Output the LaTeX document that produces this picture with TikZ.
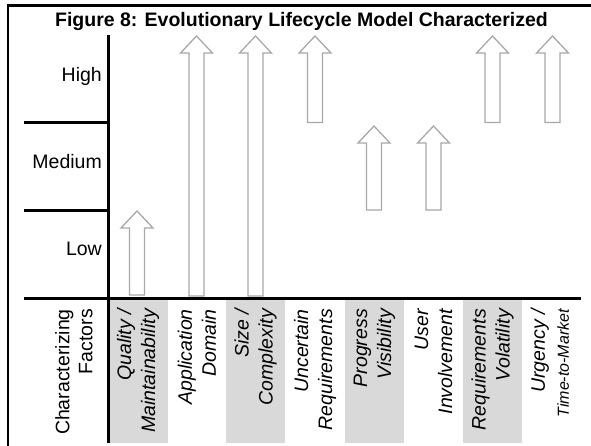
\documentclass[tikz,border=0pt]{standalone}
\usepackage{fontspec}
\setmainfont{Liberation Sans}
\definecolor{shadegray}{RGB}{217,217,217}
\definecolor{arrowgray}{RGB}{168,168,168}
% hollow upward block arrow: centre x, tip y, base y
\newcommand\growtharrow[3]{%
  \draw[growth] (#1-7.5,#3) -- (#1-7.5,#2+17) -- (#1-16,#2+17) -- (#1,#2)
    -- (#1+16,#2+17) -- (#1+7.5,#2+17) -- (#1+7.5,#3) -- cycle;}
\begin{document}
\begin{tikzpicture}[x=1pt,y=-1pt,
  frame/.style={line width=2.5pt},
  axis/.style={line width=3pt},
  shade/.style={fill=shadegray,draw=none},
  lvl/.style={anchor=base east,inner sep=0pt,font=\fontsize{19.5}{23.5}\selectfont},
  factor/.style={rotate=90,anchor=east,align=right,inner sep=0pt,
    font=\fontsize{19.5}{24}\selectfont\itshape},
  heading/.style={rotate=90,anchor=east,align=right,inner sep=0pt,
    font=\fontsize{19.5}{23}\selectfont},
  growth/.style={draw=arrowgray,line width=1.3pt,line join=miter}]
\useasboundingbox (0,0) rectangle (591,445);

% shaded factor columns
\fill[shade] (110,300) rectangle (168,443);
\fill[shade] (226,300) rectangle (285,443);
\fill[shade] (345,300) rectangle (404,443);
\fill[shade] (463,300) rectangle (522,443);

% outer frame
\draw[frame] (8,446) -- (8,5.3) -- (593,5.3);

% title
\node[anchor=base,inner sep=0pt,font=\fontsize{19.5}{23.5}\selectfont\bfseries]
  (title) at (301.5,26.5) {Figure 8: Evolutionary Lifecycle Model Characterized};

% level axis and separators
\draw[axis] (108,35) -- (108,443);
\draw[axis] (24,122.5) -- (108,122.5);
\draw[axis] (24,210) -- (108,210);
\draw[axis] (24,298) -- (581,298);

% level labels
\node[lvl] (high) at (102,81) {High};
\node[lvl] (medium) at (102,168) {Medium};
\node[lvl] (low) at (102,255) {Low};

% rating arrows
\growtharrow{137}{211}{295}
\growtharrow{196.5}{36}{296}
\growtharrow{255.5}{36}{296}
\growtharrow{315}{36}{122.5}
\growtharrow{374}{126}{210}
\growtharrow{433.5}{126}{210}
\growtharrow{492.5}{36}{122.5}
\growtharrow{552.5}{36}{122.5}

% factor labels
\node[heading] (factors) at (74,309) {Characterizing\\Factors};
\node[factor] (f1) at (138,309) {Quality /\\Maintainability};
\node[factor] (f2) at (197,309) {Application\\Domain};
\node[factor] (f3) at (255.5,309) {Size /\\Complexity};
\node[factor] (f4) at (315,309) {Uncertain\\Requirements};
\node[factor] (f5) at (374.5,309) {Progress\\Visibility};
\node[factor] (f6) at (433.5,309) {User\\Involvement};
\node[factor] (f7) at (492.5,309) {Requirements\\Volatility};
\node[factor] (f8) at (550,309) {Urgency /\\{\fontsize{16}{19}\selectfont Time-to-Market}};
\end{tikzpicture}
\end{document}
